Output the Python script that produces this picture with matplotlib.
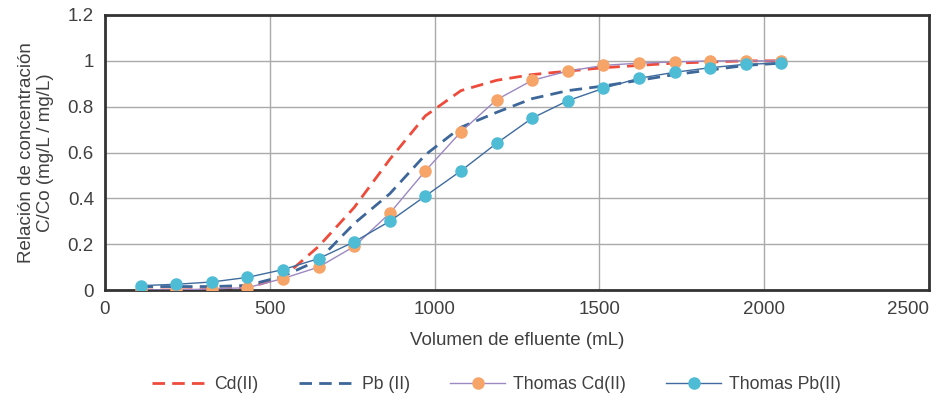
import matplotlib
matplotlib.use("Agg")
import matplotlib.pyplot as plt
from matplotlib.ticker import FuncFormatter

plt.rcParams['font.family'] = ['Liberation Sans', 'DejaVu Sans']

# effluent volume (mL)
volumen = [108, 216, 324, 432, 540, 648, 756, 864, 972, 1080,
           1188, 1296, 1404, 1512, 1620, 1728, 1836, 1944, 2052]

# experimental C/Co
cd_exp = [0.0, 0.0, 0.005, 0.01, 0.05, 0.10, 0.19, 0.335, 0.52, 0.69,
          0.83, 0.915, 0.955, 0.98, 0.99, 0.995, 1.0, 1.0, 1.0]
pb_exp = [0.019, 0.025, 0.035, 0.055, 0.089, 0.137, 0.21, 0.30, 0.41, 0.52,
          0.64, 0.75, 0.826, 0.88, 0.924, 0.95, 0.97, 0.985, 0.99]

# Thomas model C/Co
cd_model = [0.0, 0.0, 0.002, 0.01, 0.055, 0.19, 0.36, 0.57, 0.76, 0.87,
            0.915, 0.94, 0.955, 0.97, 0.98, 0.99, 0.995, 1.0, 1.0]
pb_model = [0.015, 0.015, 0.015, 0.02, 0.06, 0.13, 0.29, 0.42, 0.59, 0.71,
            0.775, 0.835, 0.87, 0.89, 0.915, 0.94, 0.96, 0.98, 0.99]

txt = '#404040'
fs = 13.5

fig = plt.figure(figsize=(9.4, 4.01), dpi=100)
ax = fig.add_axes([0.1117, 0.2768, 0.8766, 0.6858])

ax.plot(volumen, cd_model, color='#EE4B3B', lw=2.0, ls=(0, (4.5, 2.6)),
        label='Cd(II)', zorder=2)
ax.plot(volumen, pb_model, color='#3D6699', lw=2.0, ls=(0, (4.5, 2.6)),
        label='Pb (II)', zorder=2)
ax.plot(volumen, cd_exp, color='#9C88C2', lw=1.0, marker='o', ms=8,
        mfc='#F6A468', mec='#F6A468', label='Thomas Cd(II)', zorder=3)
ax.plot(volumen, pb_exp, color='#3F6B9E', lw=1.0, marker='o', ms=8,
        mfc='#4FBCD5', mec='#4FBCD5', label='Thomas Pb(II)', zorder=4)

ax.set_xlim(0, 2500)
ax.set_ylim(0, 1.2)
ax.set_xticks([0, 500, 1000, 1500, 2000, 2500])
ax.set_yticks([0, 0.2, 0.4, 0.6, 0.8, 1.0, 1.2])
ax.yaxis.set_major_formatter(FuncFormatter(lambda v, p: f'{v:g}'))
ax.tick_params(length=0, labelsize=fs, labelcolor=txt, pad=8)
ax.grid(True, color='#AAAAAA', lw=1.0)
ax.set_axisbelow(True)
for s in ax.spines.values():
    s.set_color('#333333')
    s.set_linewidth(2.0)

# keep the last x tick label inside the figure
ax.get_xticklabels()[-1].set_horizontalalignment('right')

ax.set_xlabel('Volumen de efluente (mL)', fontsize=fs, color=txt, labelpad=10)
ax.set_ylabel('Relación de concentración\nC/Co (mg/L / mg/L)', fontsize=fs,
              color=txt, labelpad=10, linespacing=1.15)

leg = fig.legend(loc='center', bbox_to_anchor=(0.528, 0.04), ncol=4,
                 frameon=False, fontsize=12.7, handlelength=3.1,
                 columnspacing=2.3, handletextpad=0.45)
for t in leg.get_texts():
    t.set_color(txt)

fig.savefig('out.png', dpi=100)
